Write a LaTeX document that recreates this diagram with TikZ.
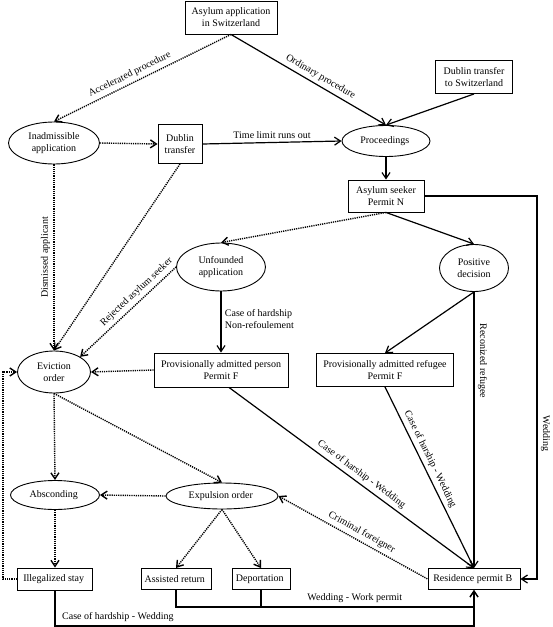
\documentclass[tikz,border=0pt]{standalone}
\usepackage{fontspec}
\setmainfont{Liberation Serif}
\usetikzlibrary{arrows.meta,positioning,shapes.geometric}

\begin{document}
\begin{tikzpicture}[x=1pt,y=-1pt,font=\fontsize{10}{12}\selectfont,
    >={Straight Barb[length=6pt,width=8pt]},
    box/.style={rectangle,draw=black,line width=0.9pt,align=center,inner sep=1pt},
    oval/.style={ellipse,draw=black,line width=0.9pt,align=center,inner sep=0pt},
    flow/.style={line width=1.2pt,->},
    dotflow/.style={flow,line width=1.4pt,dash pattern=on 1.2pt off 1pt},
   ]
    \useasboundingbox (0,0) rectangle (553,627);

    % upper part
    \node (app)    [box,minimum width=92pt,minimum height=33pt] at (231,17.5) { Asylum application\\in Switzerland };
    \node (dubch)  [box,minimum width=77pt,minimum height=33pt] at (474,77)   { Dublin transfer\\to Switzerland };
    \node (inadm)  [oval,minimum width=91pt,minimum height=42pt] at (54,143)  { Inadmissible\\application };
    \node (dublin) [box,minimum width=44pt,minimum height=39pt] at (180,144)  { Dublin\\transfer };
    \node (proc)   [oval,minimum width=88pt,minimum height=31pt] at (386,141) { Proceedings };
    \node (seeker) [box,minimum width=76pt,minimum height=32pt] at (386,196)  { Asylum seeker\\Permit N };

    % decisions
    \node (unfound)  [oval,minimum width=89pt,minimum height=48pt] at (221,267) { Unfounded\\application };
    \node (posdec)   [oval,minimum width=69pt,minimum height=47pt] at (474,268) { Positive\\decision };
    \node (evict)    [oval,minimum width=73pt,minimum height=42pt] at (54,372)  { Eviction\\order };
    \node (pperson)  [box,minimum width=134pt,minimum height=34pt] at (221,370) { Provisionally admitted person\\Permit F };
    \node (prefugee) [box,minimum width=137pt,minimum height=33pt] at (385,370) { Provisionally admitted refugee\\Permit F };

    % lower part
    \node (abscond) [oval,minimum width=89pt,minimum height=29pt] at (55,495)  { Absconding };
    \node (expul)   [oval,minimum width=112pt,minimum height=26pt] at (222,496) { Expulsion order };
    \node (illegal) [box,minimum width=75pt,minimum height=22pt] at (55,579)   { Illegalized stay };
    \node (assist)  [box,minimum width=70pt,minimum height=21pt] at (176,579)  { Assisted return };
    \node (deport)  [box,minimum width=58pt,minimum height=21pt] at (261,579)  { Deportation };
    \node (resb)    [box,minimum width=92pt,minimum height=21pt] at (474,579)  { Residence permit B };

    \coordinate (wedr) at (537,579);
    \coordinate (lftb) at (3,579);
    \coordinate (wkp)  at (474,607);
    \coordinate (hsw)  at (474,626);

    \draw[dotflow] (app.south) -- node[sloped,above,pos=.55] { Accelerated procedure } (inadm.north);
    \draw[flow] (app.south) -- node[sloped,above,pos=.55] { Ordinary procedure } (proc.north);
    \draw[flow] (dubch.south) -- (proc.north);
    \draw[dotflow] (inadm.east) -- (dublin.west);
    \draw[flow] (dublin.east) -- node[above] { Time limit runs out } (proc.west);
    \draw[flow] (proc.south) -- (seeker.north);
    \draw[dotflow] (inadm.south) -- node[rotate=90,anchor=south] { Dismissed applicant } (evict.north);
    \draw[dotflow] (dublin.south) -- (evict.north);

    \draw[dotflow] (seeker.south) -- (unfound.north);
    \draw[flow] (seeker.south) -- (posdec.north);
    \draw[flow] (seeker.east) -| node[pos=.81,rotate=-90,anchor=south] { Wedding } (wedr) -- (resb.east);
    \draw[dotflow] (unfound.west) -- node[sloped,above,pos=.35] { Rejected asylum seeker } (evict.north east);
    \draw[flow] (unfound.south) -- node[right,align=left,pos=.45] { Case of hardship\\Non-refoulement } (pperson.north);
    \draw[dotflow] (pperson.west) -- (evict.east);
    \draw[flow] (posdec.south) -- (prefugee.north);
    \draw[flow] (posdec.south) -- node[pos=.25,rotate=-90,anchor=south] { Reconized refugee } (resb.north);
    \draw[flow] ([xshift=8pt]pperson.south) -- node[sloped,above,pos=.52] { Case of harship - Wedding } (resb.north);
    \draw[flow] (prefugee.south) -- node[sloped,above,pos=.42] { Case of harship - Wedding } (resb.north);

    \draw[dotflow] (evict.south) -- (abscond.north);
    \draw[dotflow] (evict.south) -- (expul.north);
    \draw[dotflow] (expul.west) -- (abscond.east);
    \draw[dotflow] (abscond.south) -- (illegal.north);
    \draw[dotflow] (illegal.west) -- (lftb) |- (evict.west);
    \draw[dotflow] (expul.south) -- (assist.north);
    \draw[dotflow] (expul.south) -- (deport.north);
    \draw[dotflow,<-] (expul.east) -- node[sloped,above,pos=.53] { Criminal foreigner } (resb.west);

    \draw[flow] (assist.south) |- node[pos=.8,above] { Wedding - Work permit } (wkp) -- (resb.south);
    \draw[flow,-] (deport.south) -- (deport.south |- wkp);
    \draw[flow] (illegal.south) |- node[pos=.575,above] { Case of hardship - Wedding } (hsw) -- (resb.south);
   \end{tikzpicture}
\end{document}
